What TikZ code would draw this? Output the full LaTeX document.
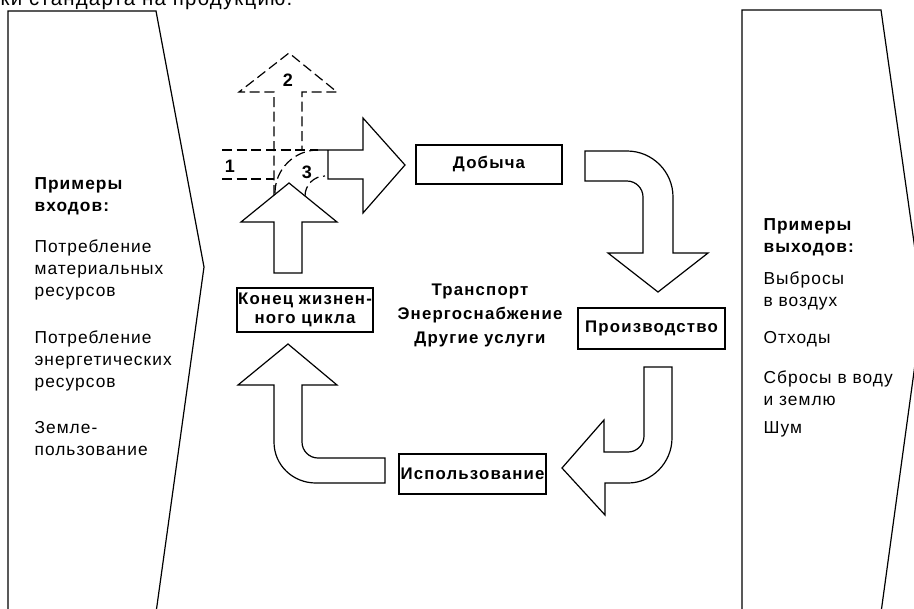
\documentclass[tikz,border=0pt]{standalone}
\usepackage{fontspec}
\setmainfont{Liberation Sans}
\newfontfamily\lsp[LetterSpace=6]{Liberation Sans}
\newfontfamily\lspb[LetterSpace=7]{Liberation Sans}
\begin{document}
\begin{tikzpicture}[x=0.75pt,y=-0.75pt,line width=0.9pt,line join=miter,
  solidarrow/.style={draw,line width=0.9pt},
  dsh/.style={draw,line width=0.9pt,dash pattern=on 7.5pt off 3.5pt},
  stagebox/.style={draw,line width=0.9pt,inner sep=0pt,align=center,
    font=\fontsize{12.6}{14}\lspb\bfseries},
  paneltext/.style={anchor=base west,inner sep=0pt,align=left,
    font=\fontsize{13}{16.5}\lsp},
  paneltitle/.style={anchor=base west,inner sep=0pt,align=left,
    font=\fontsize{13}{16.5}\lsp\bfseries},
  numlabel/.style={inner sep=0pt,font=\fontsize{13.5}{15}\lsp\bfseries}]
\useasboundingbox (0,0) rectangle (914,608);
\clip (0,0) rectangle (914,608);

% cropped text line at the top
\node[anchor=base west,inner sep=0pt,font=\fontsize{15.3}{17}\lsp] (toptext) at (0,5) {ки стандарта на продукцию.};

% side panels
\draw (8,620) -- (8,11) -- (156,11) -- (204,267) -- (155,620);
\draw (742,620) -- (742,10) -- (881,10) -- (923,306) -- (880,620);

% left panel text (anchor = baseline of last line)
\node[paneltitle] (intitle) at (34,211) {Примеры\\входов:};
\node[paneltext] (in1) at (34,296) {Потребление\\материальных\\ресурсов};
\node[paneltext] (in2) at (34,387) {Потребление\\энергетических\\ресурсов};
\node[paneltext] (in3) at (34,455) {Земле-\\пользование};

% right panel text
\node[paneltitle] (outtitle) at (763,252) {Примеры\\выходов:};
\node[paneltext] (out1) at (763,306) {Выбросы\\в воздух};
\node[paneltext] (out2) at (763,343) {Отходы};
\node[paneltext] (out3) at (763,405) {Сбросы в воду\\и землю};
\node[paneltext] (out4) at (763,433) {Шум};

% stage boxes
\node[stagebox,minimum width=109.5pt,minimum height=29.25pt] (dob) at (489,164.5) {Добыча};
\node[stagebox,minimum width=110.25pt,minimum height=30.75pt] (proizv) at (651.5,328.5) {Производство};
\node[stagebox,minimum width=110.25pt,minimum height=30pt] (isp) at (472.5,474) {Использование};
\node[stagebox,minimum width=102pt,minimum height=33pt] (konec) at (305,310) {Конец жизнен-\\ного цикла};

% centre text
\node[inner sep=0pt,align=center,font=\fontsize{12.6}{18}\lspb\bfseries] (centre) at (480,315) {Транспорт\\Энергоснабжение\\Другие услуги};

% dashed arrow 2 (up)
\draw[dsh] (274,195) -- (274,92) -- (239,92) -- (289,53) -- (337,92) -- (302,92) -- (302,150);
% dashed arrow 1 (right)
\draw[dsh] (222,150) -- (318,150);
\draw[dsh] (222,179) -- (274,179);
% dashed arrow 3 (turning)
\draw[dsh] (275,193) .. controls (275,169.3) and (294.3,150) .. (318,150);
\draw[dsh] (305,196) .. controls (305,185) and (314,176) .. (325,176);

\node[numlabel] (n1) at (230,166) {1};
\node[numlabel] (n2) at (288,80) {2};
\node[numlabel] (n3) at (307,172) {3};

% solid arrow from end of life upwards
\draw[solidarrow] (274,273) -- (274,222) -- (241,222) -- (289,183) -- (337,222) -- (302,222) -- (302,273) -- cycle;
% solid arrow to extraction
\draw[solidarrow] (318,150) -- (363,150) -- (363,118) -- (405,165) -- (363,213) -- (363,179) -- (328,179) -- (328,150);

% arrow extraction -> production
\draw[solidarrow] (585,151) -- (627,151) .. controls (652.4,151) and (673,171.6) .. (673,197)
  -- (673,253) -- (708,253) -- (658,292) -- (608,253) -- (643,253) -- (643,197)
  .. controls (643,188.2) and (635.8,181) .. (627,181) -- (585,181) -- cycle;

% arrow production -> use
\draw[solidarrow] (644,367) -- (672,367) -- (672,438) .. controls (672,462.3) and (652.3,483) .. (628,483)
  -- (605,483) -- (605,515) -- (562,468) -- (604,420) -- (604,452) -- (628,452)
  .. controls (636.8,452) and (644,444.8) .. (644,436) -- cycle;

% arrow use -> end of life
\draw[solidarrow] (385,458) -- (318,458) .. controls (309.2,458) and (302,450.8) .. (302,442)
  -- (302,385) -- (337,385) -- (288,344) -- (238,385) -- (274,385) -- (274,442)
  .. controls (274,465.2) and (292.8,483) .. (316,483) -- (385,483) -- cycle;
\end{tikzpicture}
\end{document}
